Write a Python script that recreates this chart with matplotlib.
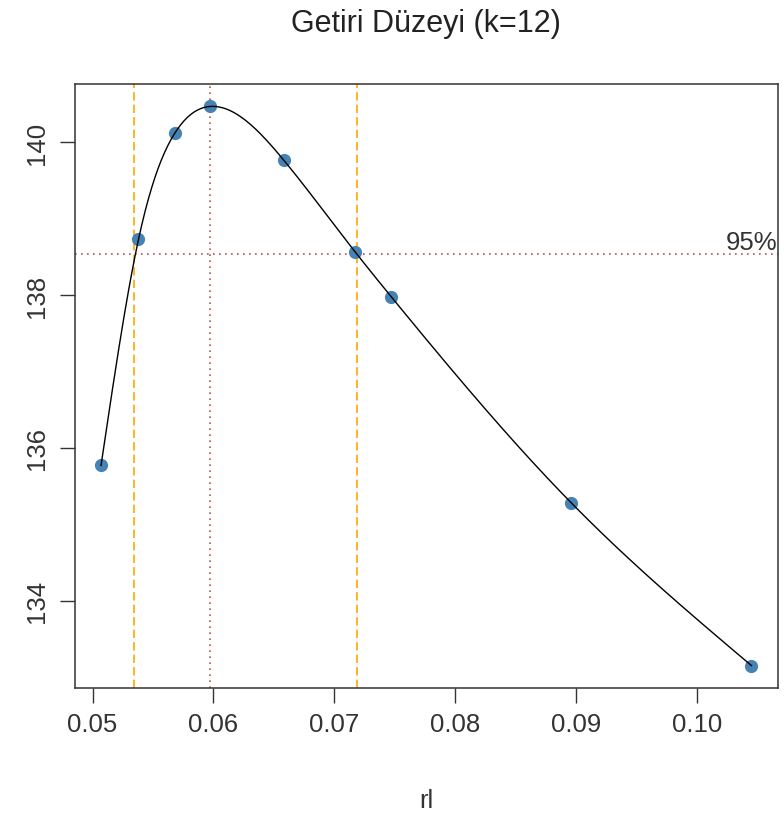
import numpy as np
import matplotlib
matplotlib.use("Agg")
import matplotlib.pyplot as plt

# values
rl = [0.0507, 0.0538, 0.0568, 0.0597, 0.0658, 0.0717, 0.0747, 0.0896, 0.1045]
getiri = [135.77, 138.73, 140.12, 140.47, 139.77, 138.57, 137.98, 135.28, 133.15]
peak_rl = 0.0597
level_95 = 138.535
band_rl = [0.05344, 0.07184]
xticks = [0.05, 0.06, 0.07, 0.08, 0.09, 0.10]
xticklabels = ["0.05", "0.06", "0.07", "0.08", "0.09", "0.10"]
yticks = [134, 136, 138, 140]

plt.rcParams['font.family'] = ['Liberation Sans', 'DejaVu Sans']


def natural_spline(x, y, xs):
    """Natural cubic spline through (x, y), evaluated at xs (like R's lines(spline()))"""
    x = np.asarray(x, float)
    y = np.asarray(y, float)
    n = len(x)
    h = np.diff(x)
    A = np.zeros((n, n))
    b = np.zeros(n)
    A[0, 0] = A[-1, -1] = 1
    for i in range(1, n - 1):
        A[i, i - 1] = h[i - 1]
        A[i, i] = 2 * (h[i - 1] + h[i])
        A[i, i + 1] = h[i]
        b[i] = 3 * ((y[i + 1] - y[i]) / h[i] - (y[i] - y[i - 1]) / h[i - 1])
    c = np.linalg.solve(A, b)
    bb = (y[1:] - y[:-1]) / h - h * (2 * c[:-1] + c[1:]) / 3
    d = (c[1:] - c[:-1]) / (3 * h)
    idx = np.clip(np.searchsorted(x, xs) - 1, 0, n - 2)
    t = xs - x[idx]
    return y[idx] + bb[idx] * t + c[idx] * t ** 2 + d[idx] * t ** 3


fig = plt.figure(figsize=(7.84, 8.28), dpi=100)
ax = fig.add_axes([75 / 784, 1 - 689 / 828, 702.5 / 784, 604 / 828])

xs = np.linspace(rl[0], rl[-1], 400)
ax.plot(rl, getiri, 'o', color='#4682B4', markersize=9.5, markeredgewidth=0, zorder=2)
ax.plot(xs, natural_spline(rl, getiri, xs), color='black', lw=1.0, zorder=3)

for v in band_rl:
    ax.axvline(v, color='#FFA500', lw=1.2, dashes=(5, 2.5), zorder=1)
ax.axvline(peak_rl, color='#C0504D', lw=1.2, dashes=(1, 2.6), zorder=1)
ax.axhline(level_95, color='#C0504D', lw=1.2, dashes=(1, 2.6), zorder=1)
ax.text(1.0, level_95, "95%", transform=ax.get_yaxis_transform(),
        ha='right', va='bottom', fontsize=18.5, color='#333333')

ax.margins(x=0.04, y=0.04)
ax.set_xticks(xticks)
ax.set_xticklabels(xticklabels)
ax.set_yticks(yticks)
ax.set_yticklabels([str(t) for t in yticks], rotation=90, va='center')
ax.tick_params(direction='out', length=11, width=1.0, color='#333333',
               labelsize=18.5, labelcolor='#333333')
ax.tick_params(axis='x', pad=6)
ax.tick_params(axis='y', pad=8)
for s in ax.spines.values():
    s.set_color('#333333')
    s.set_linewidth(1.1)

ax.set_xlabel("rl", fontsize=18.5, color='#333333', labelpad=38)
fig.text(426 / 784, 1 - 24 / 828, "Getiri Düzeyi (k=12)", ha='center', va='center',
         fontsize=22, color='#222222')

plt.savefig('out.png', dpi=100)
